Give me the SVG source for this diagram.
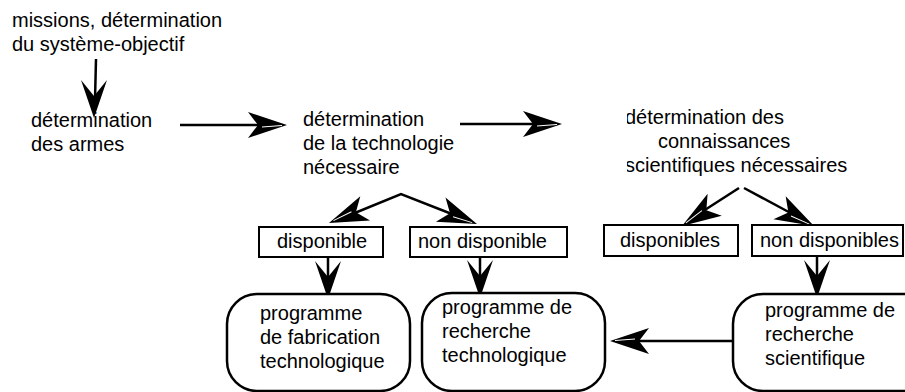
<svg xmlns="http://www.w3.org/2000/svg" xmlns:xlink="http://www.w3.org/1999/xlink" width="905" height="392" viewBox="0 0 905 392">
<style>
text{font-family:"Liberation Sans",Arial,sans-serif;font-size:20px;fill:#000}
.box{fill:#fff;stroke:#000;stroke-width:2}
.rbox{fill:#fff;stroke:#000;stroke-width:2.5}
.ln{stroke:#000;stroke-width:2.5;fill:none}
.hl{stroke:#fff;stroke-width:1;fill:none}
</style>
<defs>
<g id="ahOpen"><path d="M0,0 L-39,-13 L-29,0 L-39,13 Z" fill="#000"/><path class="hl" d="M-25,2 L-5,0.5"/></g>
<path id="ahSolid" d="M0,0 L-38,-13 L-22,0 L-38,13 Z" fill="#000"/>
<clipPath id="clip3"><rect x="627" y="100" width="278" height="80"/></clipPath>
</defs>

<g id="connectors">
<line class="ln" x1="96" y1="59" x2="95" y2="100"/>
<use xlink:href="#ahSolid" href="#ahSolid" transform="translate(94,118) rotate(90)"/>
<line class="ln" x1="180" y1="125" x2="265" y2="125"/>
<use xlink:href="#ahOpen" href="#ahOpen" transform="translate(287,125)"/>
<line class="ln" x1="460" y1="124" x2="540" y2="124"/>
<use xlink:href="#ahOpen" href="#ahOpen" transform="translate(562,124)"/>
<polyline class="ln" points="345,217 401,194 462,218"/>
<use xlink:href="#ahOpen" href="#ahOpen" transform="translate(329,223) rotate(158)"/>
<use xlink:href="#ahOpen" href="#ahOpen" transform="translate(477,224) rotate(21.5)"/>
<line class="ln" x1="739" y1="188" x2="697" y2="215"/>
<line class="ln" x1="744" y1="188" x2="798" y2="217"/>
<use xlink:href="#ahOpen" href="#ahOpen" transform="translate(682,226) rotate(147)"/>
<use xlink:href="#ahOpen" href="#ahOpen" transform="translate(814,226) rotate(28)"/>
<line class="ln" x1="328" y1="257" x2="328" y2="280"/>
<use xlink:href="#ahSolid" href="#ahSolid" transform="translate(328,299) rotate(90)"/>
<line class="ln" x1="480" y1="257" x2="480" y2="280"/>
<use xlink:href="#ahSolid" href="#ahSolid" transform="translate(480,298) rotate(90)"/>
<line class="ln" x1="817" y1="256" x2="817" y2="280"/>
<use xlink:href="#ahSolid" href="#ahSolid" transform="translate(817,298) rotate(90)"/>
<line class="ln" x1="735" y1="341" x2="630" y2="341"/>
<use xlink:href="#ahOpen" href="#ahOpen" transform="translate(610,341) rotate(180)"/>
</g>

<g id="missions">
<text x="12" y="27">missions, détermination</text>
<text x="12" y="51">du système-objectif</text>
</g>

<g id="armes">
<text x="31" y="127">détermination</text>
<text x="31" y="151">des armes</text>
</g>

<g id="technologie">
<text x="303" y="126">détermination</text>
<text x="303" y="150">de la technologie</text>
<text x="303" y="174">nécessaire</text>
</g>

<g id="connaissances" clip-path="url(#clip3)">
<text x="625" y="124">détermination des</text>
<text x="658" y="148">connaissances</text>
<text x="625" y="172">scientifiques nécessaires</text>
</g>

<g id="disponible">
<rect class="box" x="259" y="227" width="124" height="30"/>
<text x="277" y="248">disponible</text>
</g>

<g id="non-disponible">
<rect class="box" x="410" y="227" width="157" height="30"/>
<text x="418" y="248">non disponible</text>
</g>

<g id="disponibles">
<rect class="box" x="604" y="225" width="134" height="31"/>
<text x="620" y="247">disponibles</text>
</g>

<g id="non-disponibles">
<rect class="box" x="752" y="225" width="151" height="31"/>
<text x="760" y="247">non disponibles</text>
</g>

<g id="prog-fabrication">
<rect class="rbox" x="227" y="294" width="183" height="97" rx="30" ry="30"/>
<text x="260" y="320">programme</text>
<text x="260" y="344">de fabrication</text>
<text x="260" y="368">technologique</text>
</g>

<g id="prog-recherche-tech">
<rect class="rbox" x="422" y="293" width="183" height="98" rx="30" ry="30"/>
<text x="442" y="314">programme de</text>
<text x="442" y="338">recherche</text>
<text x="442" y="362">technologique</text>
</g>

<g id="prog-recherche-sci">
<rect class="rbox" x="733" y="294" width="200" height="97" rx="30" ry="30"/>
<text x="765" y="317">programme de</text>
<text x="765" y="341">recherche</text>
<text x="765" y="365">scientifique</text>
</g>
</svg>
